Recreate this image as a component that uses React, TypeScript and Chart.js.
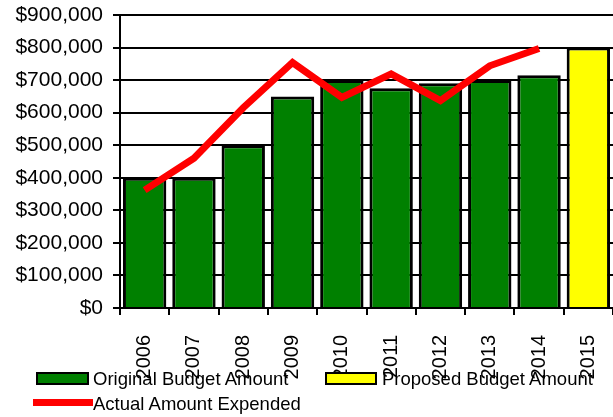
import React, { useEffect, useRef } from "react";
import { Chart, registerables } from "chart.js";

Chart.register(...registerables);

const years = ["2006", "2007", "2008", "2009", "2010", "2011", "2012", "2013", "2014", "2015"];
const originalBudget = [400000, 400000, 500000, 650000, 700000, 675000, 690000, 700000, 715000, null];
const proposedBudget = [null, null, null, null, null, null, null, null, null, 800000];
const actualExpended = [362000, 460000, 615000, 754000, 647000, 719000, 637000, 744000, 797000, null];

const FONT = "'Liberation Sans', Arial, Helvetica, sans-serif";

export default function App() {
  const ref = useRef<HTMLCanvasElement | null>(null);

  useEffect(() => {
    if (!ref.current) return;
    const chart = new Chart(ref.current, {
      type: "bar",
      data: {
        labels: years,
        datasets: [
          {
            type: "line",
            label: "Actual Amount Expended",
            data: actualExpended,
            borderColor: "#FF0000",
            backgroundColor: "#FF0000",
            borderWidth: 7,
            pointRadius: 0,
            tension: 0,
            fill: false,
            order: 0,
          } as any,
          {
            type: "bar",
            label: "Original Budget Amount",
            data: originalBudget,
            backgroundColor: "#008000",
            borderColor: "#000000",
            borderWidth: 3,
            grouped: false,
            barPercentage: 0.88,
            categoryPercentage: 1,
            order: 1,
          } as any,
          {
            type: "bar",
            label: "Proposed Budget Amount",
            data: proposedBudget,
            backgroundColor: "#FFFF00",
            borderColor: "#000000",
            borderWidth: 3,
            grouped: false,
            barPercentage: 0.88,
            categoryPercentage: 1,
            order: 1,
          } as any,
        ],
      },
      options: {
        responsive: false,
        animation: false,
        devicePixelRatio: 1,
        layout: { padding: { top: 15, right: 0, left: 0, bottom: 0 } },
        plugins: {
          legend: { display: false },
          tooltip: { enabled: false },
        },
        scales: {
          x: {
            grid: {
              display: true,
              drawOnChartArea: false,
              drawTicks: true,
              tickLength: 7,
              color: "#000",
              lineWidth: 2,
              offset: true,
            },
            border: { display: true, color: "#000", width: 2 },
            ticks: {
              color: "#000",
              font: { family: FONT, size: 20 },
              minRotation: 90,
              maxRotation: 90,
              padding: 20,
              autoSkip: false,
            },
            afterFit: (scale: any) => {
              scale.height = 109;
              scale.paddingLeft = 0;
              scale.paddingRight = 0;
            },
          },
          y: {
            min: 0,
            max: 900000,
            grid: {
              color: "#000",
              lineWidth: 2,
              tickLength: 7,
            },
            border: { display: true, color: "#000", width: 2 },
            ticks: {
              stepSize: 100000,
              color: "#000",
              font: { family: FONT, size: 21 },
              padding: 10,
              callback: (v: any) => "$" + Number(v).toLocaleString("en-US"),
            },
            afterFit: (scale: any) => {
              scale.width = 120;
              scale.paddingTop = 0;
              scale.paddingBottom = 0;
            },
          },
        },
      },
    });
    return () => chart.destroy();
  }, []);

  const textStyle: React.CSSProperties = {
    position: "absolute",
    fontFamily: FONT,
    fontSize: "18.5px",
    lineHeight: "18.5px",
    color: "#000",
    whiteSpace: "nowrap",
  };

  return (
    <div style={{ position: "absolute", left: 0, top: 0, width: 613, height: 417, background: "#fff" }}>
      <canvas ref={ref} width={613} height={417} style={{ display: "block", width: 613, height: 417 }} />
      <div style={{ position: "absolute", left: 36, top: 372, width: 53, height: 13, boxSizing: "border-box", background: "#008000", border: "2px solid #000" }} />
      <div style={{ ...textStyle, left: 93, top: 370 }}>Original Budget Amount</div>
      <div style={{ position: "absolute", left: 325, top: 372, width: 52, height: 13, boxSizing: "border-box", background: "#FFFF00", border: "2px solid #000" }} />
      <div style={{ ...textStyle, left: 382, top: 370 }}>Proposed Budget Amount</div>
      <div style={{ position: "absolute", left: 33, top: 399, width: 60, height: 7, background: "#FF0000" }} />
      <div style={{ ...textStyle, left: 93, top: 395 }}>Actual Amount Expended</div>
    </div>
  );
}
